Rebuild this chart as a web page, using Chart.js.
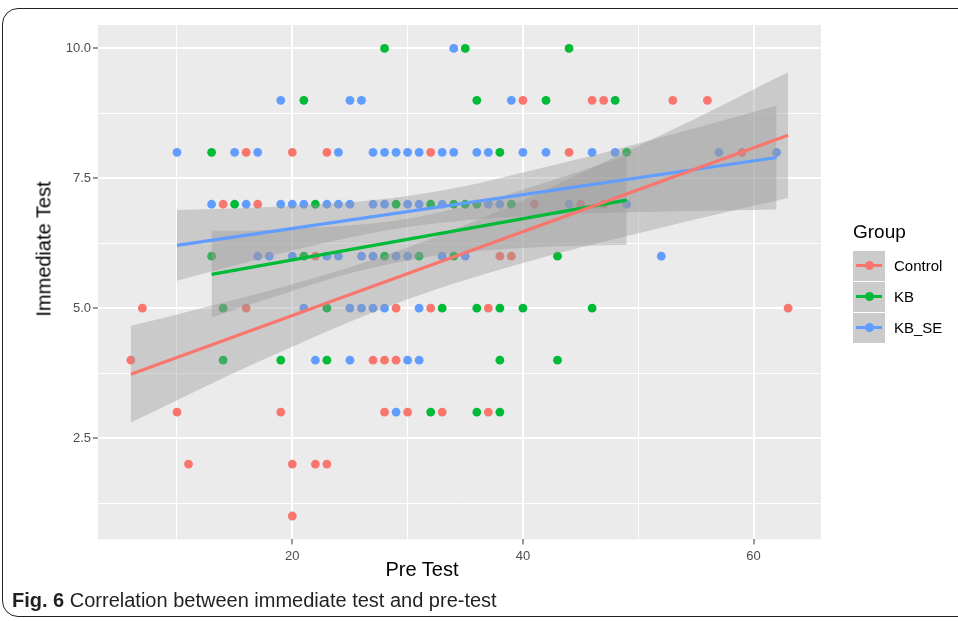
<!DOCTYPE html>
<html>
<head>
<meta charset="utf-8">
<script src="https://cdn.jsdelivr.net/npm/chart.js@4"></script>
<style>
    body { margin: 0; background: #fff; width: 958px; height: 621px; overflow: hidden; position: relative;
           font-family: "Liberation Sans", Arial, sans-serif; }
    #frame { position: absolute; left: 2px; top: 8px; width: 1000px; height: 607px;
             border: 1.5px solid #222; border-radius: 16px; }
    #wrap { position: absolute; left: 0; top: 0; width: 958px; height: 590px; }
    .axisTitle { position: absolute; font-size: 20px; color: #000; white-space: nowrap;
                 transform: translate(-50%, -50%); }
    #yTitle { left: 44px; top: 249px; transform: translate(-50%, -50%) rotate(-90deg); }
    #xTitle { left: 422px; top: 569px; }
    #legend { position: absolute; left: 853px; top: 218px; }
    #legend .title { font-size: 19px; color: #000; height: 32px; line-height: 28px; }
    #legend .row { height: 31px; display: flex; align-items: center; }
    #legend .key { width: 32px; height: 30px; background: #cbcbcb; position: relative; margin-right: 9px; }
    #legend .key i { position: absolute; left: 3px; right: 3px; top: 13.5px; height: 3px; }
    #legend .key b { position: absolute; left: 11.5px; top: 10.5px; width: 9px; height: 9px; border-radius: 50%; }
    #legend .lab { font-size: 15px; color: #000; }
    #caption { position: absolute; left: 12px; top: 589px; font-size: 20px; color: #231f20; white-space: nowrap;
               font-family: "Liberation Sans Narrow", "Liberation Sans", Arial, sans-serif; }
    #caption strong { font-weight: bold; }
</style>
</head>
<body>
<div id="frame"></div>
<div id="wrap"><canvas id="plot" width="958" height="590"></canvas></div>
<div class="axisTitle" id="yTitle">Immediate Test</div>
<div class="axisTitle" id="xTitle">Pre Test</div>
<div id="legend"></div>
<div id="caption"><strong>Fig. 6</strong> Correlation between immediate test and pre-test</div>

<script>
// group names and colours (ggplot default hues)
const groups = ['Control', 'KB', 'KB_SE'];
const groupColours = ['#F8766D', '#00BA38', '#619CFF'];

// scores, one row of y at a time
const controlPre = [40, 46, 47, 53, 56,  16, 20, 23, 32, 44, 59,  14, 17, 41, 45, 47,  22, 38, 39,
                    7, 16, 29, 32, 37, 63,  6, 27, 28, 29,  10, 19, 28, 30, 33, 37,  11, 20, 22, 23,  20];
const controlImm = [9, 9, 9, 9, 9,  8, 8, 8, 8, 8, 8,  7, 7, 7, 7, 7,  6, 6, 6,
                    5, 5, 5, 5, 5, 5,  4, 4, 4, 4,  3, 3, 3, 3, 3, 3,  2, 2, 2, 2,  1];

const kbPre = [28, 35, 44,  21, 36, 42, 48,  13, 38, 49,  15, 22, 29, 32, 34, 35, 36, 39,
               13, 21, 28, 31, 34, 43,  14, 23, 33, 36, 38, 40, 46,  14, 19, 23, 38, 43,  32, 36, 38];
const kbImm = [10, 10, 10,  9, 9, 9, 9,  8, 8, 8,  7, 7, 7, 7, 7, 7, 7, 7,
               6, 6, 6, 6, 6, 6,  5, 5, 5, 5, 5, 5, 5,  4, 4, 4, 4, 4,  3, 3, 3];

const kbsePre = [34,  19, 25, 26, 39,
                 10, 15, 17, 24, 27, 28, 29, 30, 31, 33, 34, 36, 37, 40, 42, 46, 48, 57, 62,
                 13, 16, 19, 20, 21, 23, 24, 25, 27, 28, 30, 31, 33, 37, 38, 44, 49,
                 17, 18, 20, 23, 24, 26, 27, 29, 30, 33, 35, 52,
                 21, 25, 26, 27, 28, 31,  22, 25, 30, 31,  29];
const kbseImm = [10,  9, 9, 9, 9,
                 8, 8, 8, 8, 8, 8, 8, 8, 8, 8, 8, 8, 8, 8, 8, 8, 8, 8, 8,
                 7, 7, 7, 7, 7, 7, 7, 7, 7, 7, 7, 7, 7, 7, 7, 7, 7,
                 6, 6, 6, 6, 6, 6, 6, 6, 6, 6, 6, 6,
                 5, 5, 5, 5, 5, 5,  4, 4, 4, 4,  3];

// fitted lines (end points) and confidence bands
const controlFitX = [6, 63];
const controlFitY = [3.73, 8.33];
const controlBandX = [6, 10, 15, 20, 25, 30, 35, 40, 45, 50, 55, 60, 63];
const controlBandHi = [4.66, 4.88, 5.16, 5.46, 5.79, 6.17, 6.60, 7.07, 7.59, 8.12, 8.65, 9.21, 9.54];
const controlBandLo = [2.80, 3.23, 3.76, 4.26, 4.74, 5.17, 5.54, 5.87, 6.17, 6.44, 6.71, 6.97, 7.12];

const kbFitX = [13, 49];
const kbFitY = [5.65, 7.08];
const kbBandX = [13, 15, 20, 25, 30, 35, 40, 45, 49];
const kbBandHi = [6.49, 6.49, 6.53, 6.59, 6.72, 6.96, 7.28, 7.64, 7.94];
const kbBandLo = [4.82, 4.97, 5.33, 5.67, 5.92, 6.08, 6.16, 6.20, 6.22];

const kbseFitX = [10, 62];
const kbseFitY = [6.21, 7.90];
const kbseBandX = [10, 15, 20, 25, 30, 35, 40, 45, 50, 55, 62];
const kbseBandHi = [6.89, 6.92, 6.97, 7.04, 7.16, 7.35, 7.61, 7.88, 8.17, 8.47, 8.90];
const kbseBandLo = [5.53, 5.82, 6.11, 6.36, 6.56, 6.69, 6.77, 6.82, 6.85, 6.87, 6.90];

// axis ticks
const xLabels = [20, 40, 60];
const yLabels = [2.5, 5, 7.5, 10];

const pairs = (xs, ys) => xs.map((x, i) => ({ x, y: ys[i] }));

const points = [[controlPre, controlImm], [kbPre, kbImm], [kbsePre, kbseImm]];
const fits = [[controlFitX, controlFitY], [kbFitX, kbFitY], [kbseFitX, kbseFitY]];
const bands = [[controlBandX, controlBandHi, controlBandLo], [kbBandX, kbBandHi, kbBandLo],
               [kbseBandX, kbseBandHi, kbseBandLo]];

const datasets = [];
points.forEach(([xs, ys], g) => {
    datasets.push({
        type: 'scatter',
        label: groups[g],
        data: pairs(xs, ys),
        backgroundColor: groupColours[g],
        borderWidth: 0,
        pointRadius: 4.4,
        order: 10,
    });
});
// bands go over the points, like geom_smooth does
bands.forEach(([xs, hi, lo]) => {
    const upperIndex = datasets.length;
    datasets.push({
        type: 'line', data: pairs(xs, hi), borderWidth: 0, pointRadius: 0,
        cubicInterpolationMode: 'monotone', fill: false, order: 5,
    });
    datasets.push({
        type: 'line', data: pairs(xs, lo), borderWidth: 0, pointRadius: 0,
        cubicInterpolationMode: 'monotone', fill: upperIndex,
        backgroundColor: 'rgba(153,153,153,0.4)', order: 5,
    });
});
fits.forEach(([xs, ys], g) => {
    datasets.push({
        type: 'line', data: pairs(xs, ys), borderColor: groupColours[g], borderWidth: 3.2,
        pointRadius: 0, fill: false, order: 1,
    });
});

// grey panel behind the grid
const panelBg = {
    id: 'panelBg',
    beforeDraw(chart) {
        const { ctx, chartArea: a } = chart;
        ctx.save();
        ctx.fillStyle = '#EBEBEB';
        ctx.fillRect(a.left, a.top, a.width, a.height);
        ctx.restore();
    }
};

const tickFont = { family: '"Liberation Sans", Arial, sans-serif', size: 13 };

new Chart(document.getElementById('plot'), {
    data: { datasets },
    plugins: [panelBg],
    options: {
        responsive: false,
        animation: false,
        devicePixelRatio: 1,
        layout: { padding: { top: 25, right: 137, left: 0, bottom: 0 } },
        scales: {
            x: {
                type: 'linear',
                min: 3.15,
                max: 65.85,
                afterFit: (s) => { s.height = 50.6; },
                border: { display: false },
                grid: {
                    color: '#FFFFFF',
                    lineWidth: (c) => xLabels.includes(c.tick.value) ? 2 : 1,
                    tickColor: (c) => xLabels.includes(c.tick.value) ? '#333333' : 'rgba(0,0,0,0)',
                    tickLength: 5,
                    tickWidth: 1,
                },
                ticks: {
                    stepSize: 10,
                    includeBounds: false,
                    autoSkip: false,
                    maxRotation: 0,
                    padding: 4,
                    color: '#4D4D4D',
                    font: tickFont,
                    callback: (v) => xLabels.includes(v) ? String(v) : '',
                },
            },
            y: {
                type: 'linear',
                min: 0.55,
                max: 10.45,
                afterFit: (s) => { s.width = 98; },
                border: { display: false },
                grid: {
                    color: '#FFFFFF',
                    lineWidth: (c) => yLabels.includes(c.tick.value) ? 2 : 1,
                    tickColor: (c) => yLabels.includes(c.tick.value) ? '#333333' : 'rgba(0,0,0,0)',
                    tickLength: 5,
                    tickWidth: 1,
                },
                ticks: {
                    stepSize: 1.25,
                    includeBounds: false,
                    autoSkip: false,
                    padding: 2,
                    color: '#4D4D4D',
                    font: tickFont,
                    callback: (v) => yLabels.includes(v) ? v.toFixed(1) : '',
                },
            },
        },
        plugins: {
            legend: { display: false },
            tooltip: { enabled: false },
        },
    },
});

// ggplot style legend
const legend = document.getElementById('legend');
legend.innerHTML = '<div class="title">Group</div>' + groups.map((name, g) =>
    `<div class="row"><div class="key"><i style="background:${groupColours[g]}"></i>` +
    `<b style="background:${groupColours[g]}"></b></div><span class="lab">${name}</span></div>`).join('');
</script>
</body>
</html>
